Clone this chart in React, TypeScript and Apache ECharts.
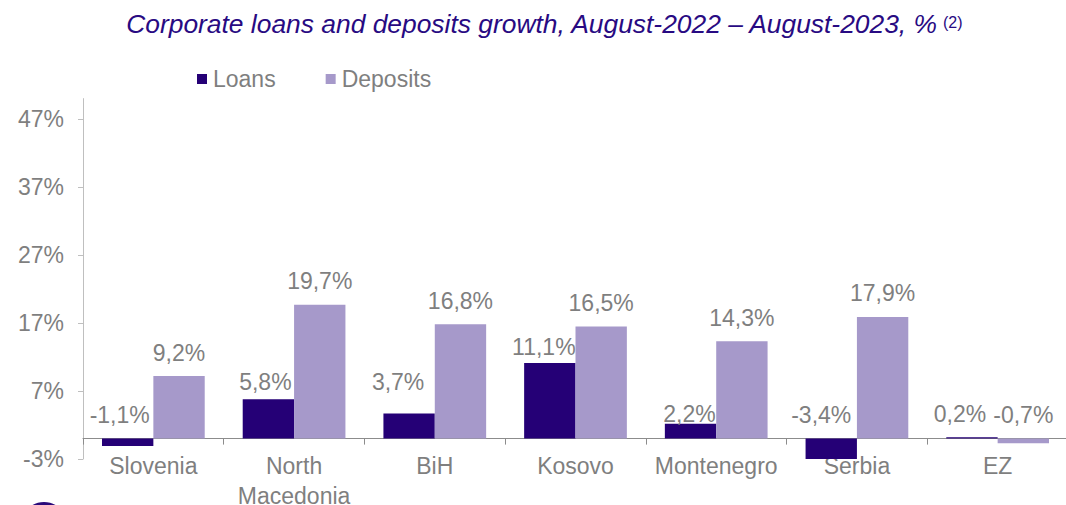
import React, { useEffect, useRef } from "react";
import * as echarts from "echarts";

const categories = ["Slovenia", "North\nMacedonia", "BiH", "Kosovo", "Montenegro", "Serbia", "EZ"];
const loans = [-1.1, 5.8, 3.7, 11.1, 2.2, -3.4, 0.2];
const deposits = [9.2, 19.7, 16.8, 16.5, 14.3, 17.9, -0.7];
const yTicks = [-3, 7, 17, 27, 37, 47];
// manual nudges of the loans' value labels, as in the source chart [dx, dy]
const loanLabelOffsets = [[-8, 0], [-3, 6.6], [-11, -7.7], [-6, 7], [-1, 14.3], [-10, 0], [-12, 0]];

const FONT = "Liberation Sans, Arial, sans-serif";
const GRAY = "#7F7F7F";
const LOAN_COLOR = "#250076";
const DEP_COLOR = "#A699CA";
const TITLE_COLOR = "#280A82";

const fmt = (p: any) => Number(p.value).toFixed(1).replace(".", ",") + "%";

export default function App() {
  const ref = useRef<HTMLDivElement>(null);
  useEffect(() => {
    document.body.style.margin = "0";
    const chart = echarts.init(ref.current!, null, { renderer: "svg" });
    chart.setOption({
      animation: false,
      backgroundColor: "#FFFFFF",
      textStyle: { fontFamily: FONT },
      graphic: [
        {
          type: "text",
          x: 937,
          y: 24.3,
          style: {
            text: "Corporate loans and deposits growth, August-2022 \u2013 August-2023, %",
            fontFamily: FONT,
            fontStyle: "italic",
            fontSize: 26.4,
            fill: TITLE_COLOR,
            align: "right",
            verticalAlign: "middle",
          },
        },
        {
          type: "text",
          x: 943,
          y: 22.5,
          style: {
            text: "(2)",
            fontFamily: FONT,
            fontSize: 16,
            fill: TITLE_COLOR,
            align: "left",
            verticalAlign: "middle",
          },
        },
        {
          type: "circle",
          shape: { cx: 44, cy: 525.5, r: 23.5 },
          style: { fill: "#2A0A7A" },
          silent: true,
        },
      ],
      legend: {
        left: 197,
        top: 67,
        padding: 0,
        itemWidth: 10,
        itemHeight: 10,
        itemGap: 50,
        icon: "rect",
        textStyle: { fontFamily: FONT, fontSize: 23, color: GRAY, lineHeight: 24, padding: [0, 0, 0, 1] },
        data: ["Loans", "Deposits"],
      },
      grid: { left: 83, right: -2, top: 98.6, bottom: 46, containLabel: false, outerBoundsMode: "none" },
      xAxis: {
        type: "category",
        data: categories,
        axisLine: { onZero: true, lineStyle: { color: "#8C8C8C", width: 1 } },
        axisTick: { show: true, alignWithLabel: false, length: 6, lineStyle: { color: "#8C8C8C" } },
        axisLabel: {
          fontFamily: FONT,
          fontSize: 23,
          color: GRAY,
          lineHeight: 30,
          margin: -8.4,
          interval: 0,
        },
        splitLine: { show: false },
      },
      yAxis: {
        type: "value",
        min: -3,
        max: 50,
        axisLine: { show: true, lineStyle: { color: "#BFBFBF", width: 1 } },
        axisTick: {
          show: true,
          length: 5,
          customValues: yTicks,
          lineStyle: { color: "#BFBFBF" },
        },
        axisLabel: {
          fontFamily: FONT,
          fontSize: 23,
          color: GRAY,
          margin: 19,
          customValues: yTicks,
          formatter: (v: number) => v + "%",
        },
        splitLine: { show: false },
      },
      series: [
        {
          name: "Loans",
          type: "bar",
          data: loans.map((v, i) => ({ value: v, label: { offset: loanLabelOffsets[i] } })),
          barGap: "0%",
          barCategoryGap: "27%",
          itemStyle: { color: LOAN_COLOR },
          label: {
            show: true,
            position: "top",
            distance: 12,
            fontFamily: FONT,
            fontSize: 23,
            color: GRAY,
            formatter: fmt,
          },
        },
        {
          name: "Deposits",
          type: "bar",
          data: deposits,
          barGap: "0%",
          barCategoryGap: "27%",
          itemStyle: { color: DEP_COLOR },
          label: {
            show: true,
            position: "top",
            distance: 12,
            fontFamily: FONT,
            fontSize: 23,
            color: GRAY,
            formatter: fmt,
          },
        },
      ],
    });
    return () => chart.dispose();
  }, []);
  return <div ref={ref} style={{ width: 1066, height: 505 }} />;
}
